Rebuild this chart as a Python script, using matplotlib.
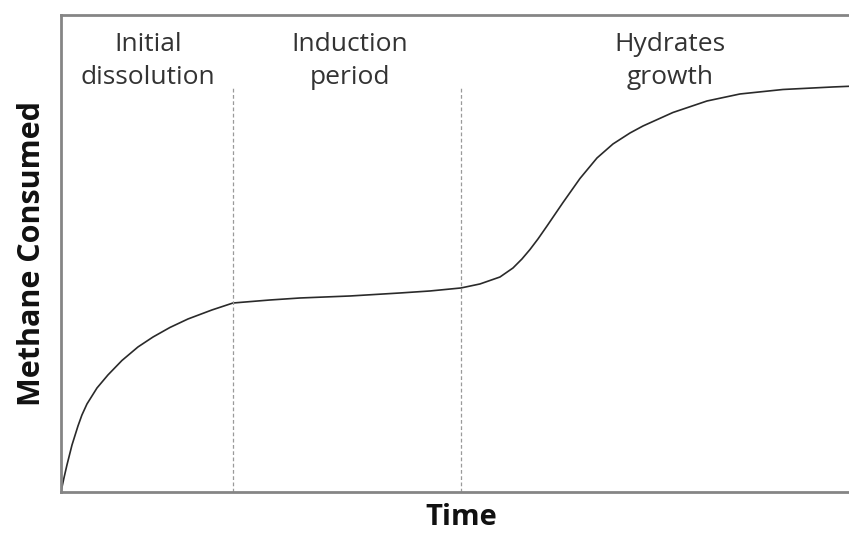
import matplotlib
matplotlib.use("Agg")
import matplotlib.pyplot as plt

# Methane consumption curve (arbitrary units, 0-100)
time = [0, 0.38, 0.76, 1.40, 2.16, 2.66, 3.30, 4.57, 5.96, 7.74, 9.77, 11.68, 13.83,
        16.12, 19.16, 21.83, 26.52, 30.33, 36.68, 43.02, 46.83, 50.76, 53.17, 55.71,
        57.36, 58.50, 59.52, 60.53, 61.68, 63.71, 65.86, 68.02, 70.05, 72.21, 73.86,
        77.66, 81.98, 86.17, 91.62, 97.97, 100]
methane = [0, 2.94, 5.66, 9.85, 13.84, 16.14, 18.45, 21.80, 24.53, 27.57, 30.40, 32.49, 34.49,
           36.27, 38.16, 39.62, 40.25, 40.67, 41.09, 41.72, 42.14, 42.77, 43.61, 45.07,
           46.96, 48.85, 50.84, 53.04, 55.77, 60.69, 65.72, 70.02, 72.96, 75.26, 76.73,
           79.56, 81.97, 83.44, 84.38, 84.91, 85.05]

# Stage boundaries and labels
boundaries = [21.83, 50.76]
boundary_top = 84.7
stage_labels = ["Initial\ndissolution", "Induction\nperiod", "Hydrates\ngrowth"]
stage_x = [11.04, 36.68, 77.28]

plt.rcParams['font.family'] = ['Open Sans', 'DejaVu Sans']

fig = plt.figure(figsize=(8.49, 5.35), dpi=100)
ax = fig.add_axes([0.0718, 0.0804, 1 - 0.0718, 0.8916])

ax.plot(time, methane, color='#2a2a2a', linewidth=1.2,
        solid_joinstyle='round', solid_capstyle='round')
for b in boundaries:
    ax.plot([b, b], [0, boundary_top], color='#9a9a9a', linewidth=0.9,
            linestyle=(0, (3, 2)))
for lab, xx in zip(stage_labels, stage_x):
    ax.text(xx, 90.4, lab, ha='center', va='center', fontsize=19,
            color='#333333', linespacing=1.42)

ax.set_xlim(0, 100)
ax.set_ylim(0, 100)
ax.set_xticks([])
ax.set_yticks([])
for s in ['left', 'bottom', 'top']:
    ax.spines[s].set_color('#858585')
    ax.spines[s].set_linewidth(2)
ax.spines['right'].set_visible(False)

ax.set_xlabel('Time', fontsize=21, fontweight='bold', labelpad=8, color='#111111', x=0.508)
ax.set_ylabel('Methane Consumed', fontsize=22, fontweight='bold', labelpad=10, color='#111111')

fig.savefig('out.png', dpi=100)
